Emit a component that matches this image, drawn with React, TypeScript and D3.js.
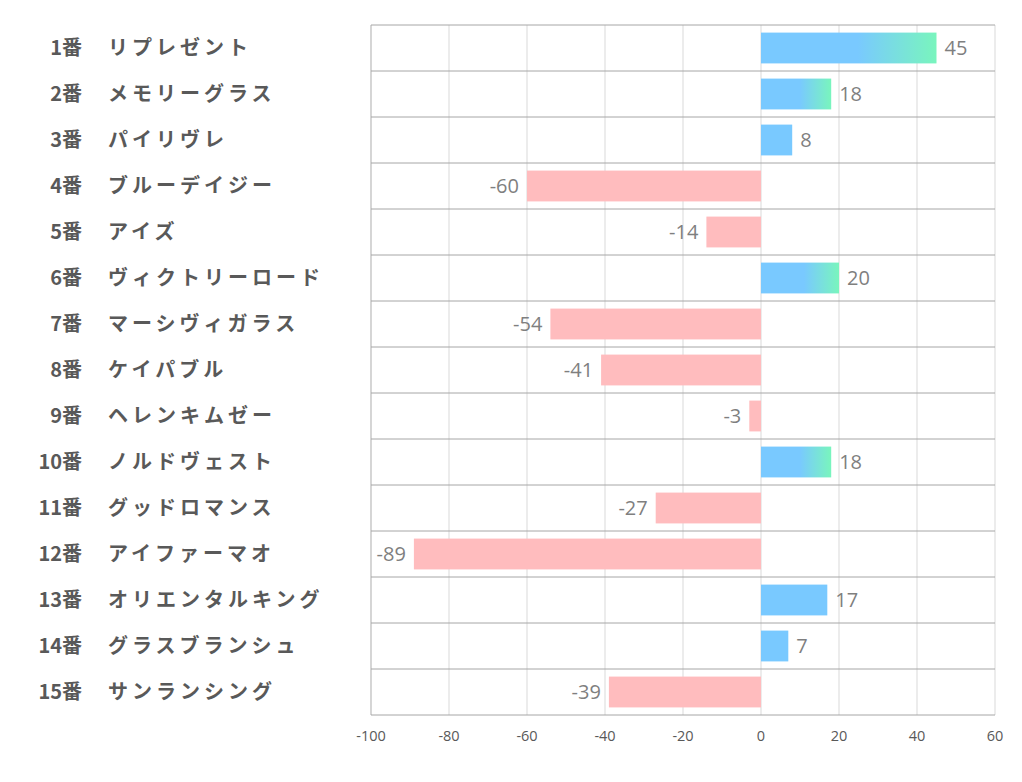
import * as d3 from "d3";

const numbers = ["1番", "2番", "3番", "4番", "5番", "6番", "7番", "8番", "9番", "10番", "11番", "12番", "13番", "14番", "15番"];
const names = [
  "リプレゼント", "メモリーグラス", "パイリヴレ", "ブルーデイジー", "アイズ",
  "ヴィクトリーロード", "マーシヴィガラス", "ケイパブル", "ヘレンキムゼー", "ノルドヴェスト",
  "グッドロマンス", "アイファーマオ", "オリエンタルキング", "グラスブランシュ", "サンランシング",
];
const values = [45, 18, 8, -60, -14, 20, -54, -41, -3, 18, -27, -89, 17, 7, -39];
const xTicks = [-100, -80, -60, -40, -20, 0, 20, 40, 60];

const W = 1022;
const H = 782;
const left = 371;
const right = 995;
const top = 25;
const bottom = 715;

export default function App() {
  const x = d3.scaleLinear().domain([-100, 60]).range([left, right]);
  const y = d3
    .scaleBand<number>()
    .domain(d3.range(values.length))
    .range([top, bottom])
    .paddingInner(0.33)
    .paddingOuter(0.165);
  const rowH = (bottom - top) / values.length;
  const rowLines = d3.range(values.length + 1).map((i) => top + i * rowH);
  const jp = "'Noto Sans CJK JP', 'Noto Sans', sans-serif";
  const num = "'Open Sans', 'Liberation Sans', sans-serif";

  return (
    <svg width={W} height={H} style={{ position: "absolute", left: 0, top: 0, background: "#fff" }}>
      <defs>
        <linearGradient id="grad" x1="0" x2="1" y1="0" y2="0">
          <stop offset="0" stopColor="#79c9ff" />
          <stop offset="0.55" stopColor="#79c9ff" />
          <stop offset="1" stopColor="#79f5bd" />
        </linearGradient>
      </defs>
      {/* vertical grid */}
      {xTicks.map((t) => (
        <line key={t} x1={x(t)} x2={x(t)} y1={top} y2={bottom} stroke="#d9d9d9" strokeWidth={1} />
      ))}
      <line x1={left} x2={left} y1={top} y2={bottom} stroke="#bfbfbf" />
      {/* row separators */}
      {rowLines.map((ly, i) => (
        <line key={i} x1={left} x2={right} y1={ly} y2={ly} stroke="#a6a6a6" strokeWidth={1} />
      ))}
      {/* bars */}
      {values.map((v, i) => {
        const x0 = x(Math.min(0, v));
        const x1 = x(Math.max(0, v));
        const fill = v < 0 ? "#ffbcbe" : v >= 18 ? "url(#grad)" : "#79c9ff";
        return <rect key={i} x={x0} y={y(i)} width={x1 - x0} height={y.bandwidth()} fill={fill} />;
      })}
      {/* value labels */}
      {values.map((v, i) => (
        <text
          key={i}
          x={v < 0 ? x(v) - 8 : x(v) + 8}
          y={(y(i) ?? 0) + y.bandwidth() / 2}
          dy="0.36em"
          textAnchor={v < 0 ? "end" : "start"}
          fontFamily={num}
          fontSize={20}
          fill="#7f7f7f"
        >
          {v}
        </text>
      ))}
      {/* category labels */}
      {values.map((_, i) => {
        const cy = top + i * rowH + rowH / 2;
        return (
          <g key={i} fontFamily={jp} fontWeight="bold" fontSize={20} fill="#595959">
            <text x={82} y={cy} dy="0.35em" textAnchor="end">
              {numbers[i]}
            </text>
            <text x={108} y={cy} dy="0.35em" letterSpacing={4}>
              {names[i]}
            </text>
          </g>
        );
      })}
      {/* x axis ticks */}
      {xTicks.map((t) => (
        <text key={t} x={x(t)} y={741} textAnchor="middle" fontFamily={num} fontSize={14.5} fill="#595959">
          {t}
        </text>
      ))}
    </svg>
  );
}
